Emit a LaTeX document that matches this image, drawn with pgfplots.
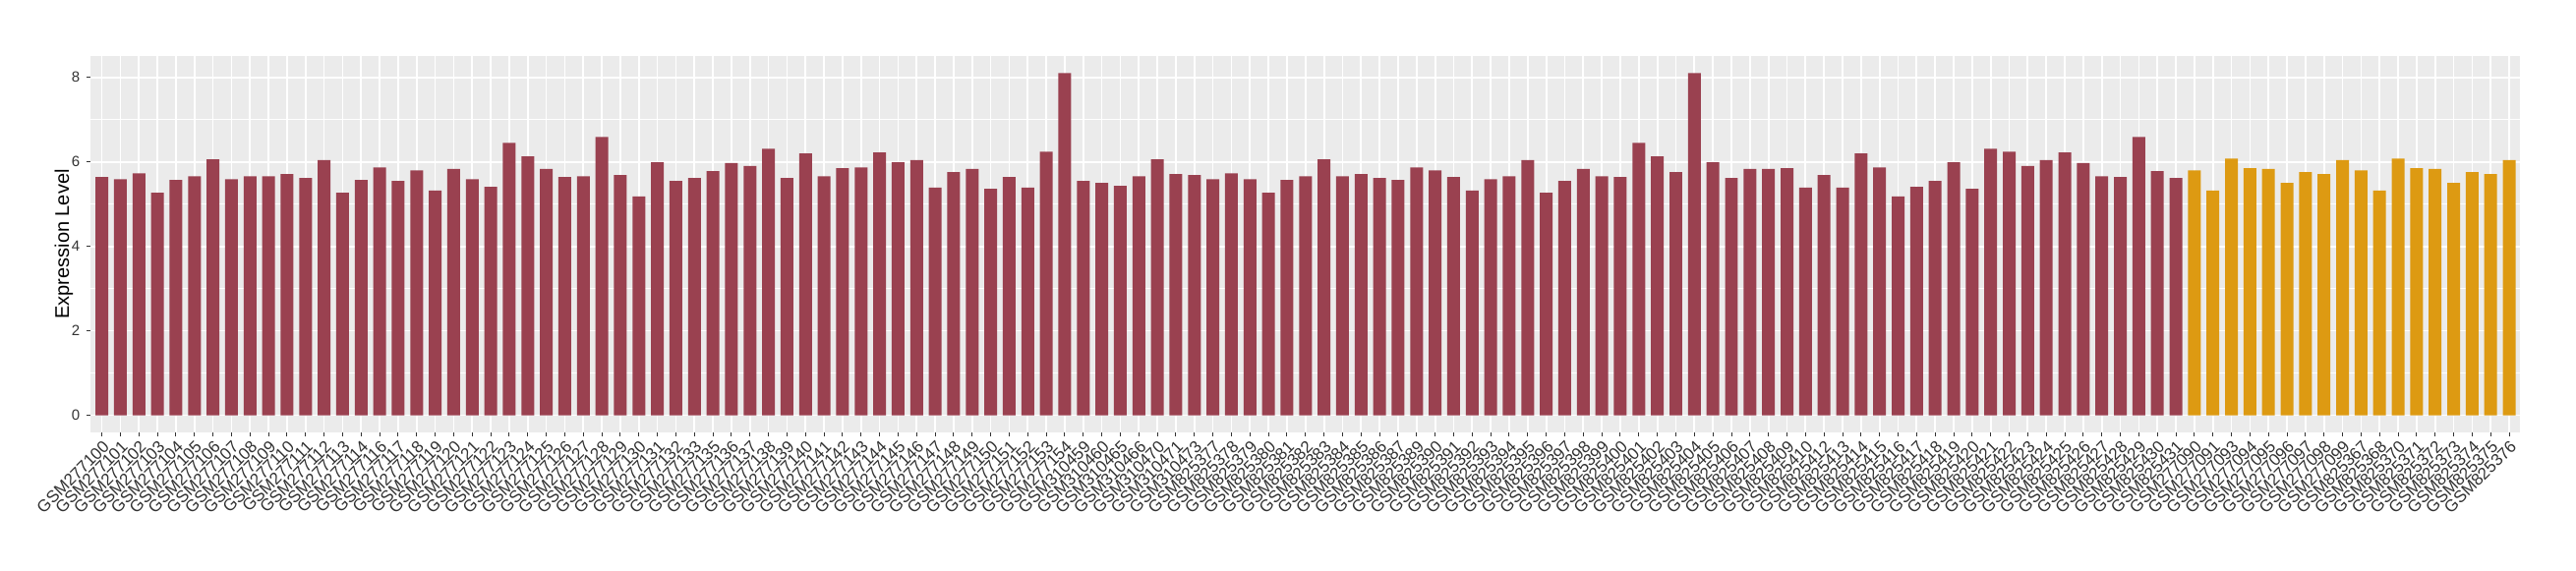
\documentclass[border=0pt]{standalone}
\usepackage{pgfplots}
\pgfplotsset{compat=1.18}
\usepackage{pgfplotstable}
\usepackage{fontspec}
\setmainfont{Liberation Sans}
\definecolor{barred}{RGB}{154,65,80}
\definecolor{barorange}{RGB}{221,154,18}
\definecolor{panelbg}{RGB}{235,235,235}
\definecolor{ticktext}{RGB}{50,50,50}
\definecolor{tickmark}{RGB}{51,51,51}

% idx value (group 1)
\pgfplotstableread{
x y
0 5.64
1 5.59
2 5.73
3 5.27
4 5.57
5 5.66
6 6.06
7 5.59
8 5.66
9 5.66
10 5.71
11 5.62
12 6.04
13 5.27
14 5.57
15 5.87
16 5.55
17 5.80
18 5.32
19 5.83
20 5.59
21 5.41
22 6.45
23 6.13
24 5.83
25 5.64
26 5.66
27 6.59
28 5.69
29 5.18
30 5.99
31 5.55
32 5.62
33 5.78
34 5.97
35 5.90
36 6.31
37 5.62
38 6.20
39 5.66
40 5.85
41 5.87
42 6.22
43 5.99
44 6.04
45 5.39
46 5.76
47 5.83
48 5.36
49 5.64
50 5.39
51 6.24
52 8.10
53 5.55
54 5.50
55 5.43
56 5.66
57 6.06
58 5.71
59 5.69
60 5.59
61 5.73
62 5.59
63 5.27
64 5.57
65 5.66
66 6.06
67 5.66
68 5.71
69 5.62
70 5.57
71 5.87
72 5.80
73 5.64
74 5.32
75 5.59
76 5.66
77 6.04
78 5.27
79 5.55
80 5.83
81 5.66
82 5.64
83 6.45
84 6.13
85 5.76
86 8.10
87 5.99
88 5.62
89 5.83
90 5.83
91 5.85
92 5.39
93 5.69
94 5.39
95 6.20
96 5.87
97 5.18
98 5.41
99 5.55
100 5.99
101 5.36
102 6.31
103 6.24
104 5.90
105 6.04
106 6.22
107 5.97
108 5.66
109 5.64
110 6.59
111 5.78
112 5.62
}\groupone

% group 2
\pgfplotstableread{
x y
113 5.80
114 5.32
115 6.08
116 5.85
117 5.83
118 5.50
119 5.76
120 5.71
121 6.04
122 5.80
123 5.32
124 6.08
125 5.85
126 5.83
127 5.50
128 5.76
129 5.71
130 6.04
}\grouptwo

\begin{document}
\begin{tikzpicture}
\path[use as bounding box] (-46.15pt,-70pt) rectangle (1263.85pt,220pt);
\begin{axis}[
    at={(0,0)}, anchor=south west,
    scale only axis,
    width=1235.5pt,
    height=191.5pt,
    xmin=-0.6, xmax=130.6,
    ymin=-0.405, ymax=8.505,
    axis background/.style={fill=panelbg},
    axis line style={draw=none},
    xtick pos=bottom, ytick pos=left,
    xtick={0,...,130},
    xticklabels={GSM277100,GSM277101,GSM277102,GSM277103,GSM277104,GSM277105,GSM277106,GSM277107,GSM277108,GSM277109,GSM277110,GSM277111,GSM277112,GSM277113,GSM277114,GSM277116,GSM277117,GSM277118,GSM277119,GSM277120,GSM277121,GSM277122,GSM277123,GSM277124,GSM277125,GSM277126,GSM277127,GSM277128,GSM277129,GSM277130,GSM277131,GSM277132,GSM277133,GSM277135,GSM277136,GSM277137,GSM277138,GSM277139,GSM277140,GSM277141,GSM277142,GSM277143,GSM277144,GSM277145,GSM277146,GSM277147,GSM277148,GSM277149,GSM277150,GSM277151,GSM277152,GSM277153,GSM277154,GSM310459,GSM310460,GSM310465,GSM310466,GSM310470,GSM310471,GSM310473,GSM825377,GSM825378,GSM825379,GSM825380,GSM825381,GSM825382,GSM825383,GSM825384,GSM825385,GSM825386,GSM825387,GSM825389,GSM825390,GSM825391,GSM825392,GSM825393,GSM825394,GSM825395,GSM825396,GSM825397,GSM825398,GSM825399,GSM825400,GSM825401,GSM825402,GSM825403,GSM825404,GSM825405,GSM825406,GSM825407,GSM825408,GSM825409,GSM825410,GSM825412,GSM825413,GSM825414,GSM825415,GSM825416,GSM825417,GSM825418,GSM825419,GSM825420,GSM825421,GSM825422,GSM825423,GSM825424,GSM825425,GSM825426,GSM825427,GSM825428,GSM825429,GSM825430,GSM825431,GSM277090,GSM277091,GSM277093,GSM277094,GSM277095,GSM277096,GSM277097,GSM277098,GSM277099,GSM825367,GSM825368,GSM825370,GSM825371,GSM825372,GSM825373,GSM825374,GSM825375,GSM825376},
    xticklabel style={rotate=45, anchor=north east, font=\fontsize{8.5}{9}\selectfont, text=ticktext, inner sep=1pt},
    ytick={0,2,4,6,8},
    minor ytick={1,3,5,7},
    yticklabel style={font=\fontsize{7.5}{8}\selectfont, text=ticktext},
    /pgf/number format/assume math mode=true,
    tick align=outside,
    major tick length=2pt,
    minor tick length=0pt,
    tick style={color=tickmark, line width=0.5pt},
    xmajorgrids, ymajorgrids, yminorgrids,
    major grid style={white, line width=0.85pt},
    minor grid style={white, line width=0.45pt},
    ylabel={Expression Level},
    ylabel style={font=\fontsize{10}{12}\selectfont},
    every axis y label/.style={at={(axis description cs:-0.01105,0.5)}, rotate=90, anchor=center},
]
\addplot[ybar, bar shift=0pt, bar width=0.69, fill=barred, draw=none] table[x=x, y=y] {\groupone};
\addplot[ybar, bar shift=0pt, bar width=0.69, fill=barorange, draw=none] table[x=x, y=y] {\grouptwo};
\end{axis}
\end{tikzpicture}
\end{document}
